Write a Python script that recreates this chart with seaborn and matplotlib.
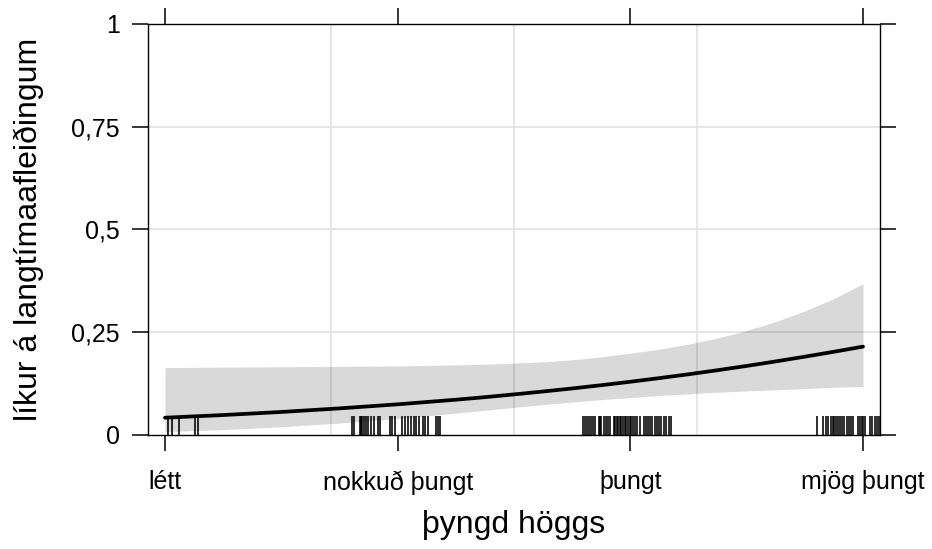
import numpy as np
import pandas as pd
import matplotlib
matplotlib.use("Agg")
import matplotlib.pyplot as plt
import seaborn as sns

# categories on the x axis (coded 1..4)
levels = ["létt", "nokkuð þungt", "þungt", "mjög þungt"]
level_pos = [1, 2, 3, 4]

# fitted probability with confidence band
fit_x = [1.0, 1.25, 1.5, 1.75, 2.0, 2.25, 2.375, 2.5, 2.625, 2.75, 2.875, 3.0,
         3.125, 3.25, 3.375, 3.5, 3.625, 3.75, 3.875, 4.0]
fit_p = [0.042, 0.0485, 0.056, 0.0647, 0.0746, 0.0858, 0.092, 0.0987, 0.1058, 0.1132,
         0.1211, 0.1295, 0.1384, 0.1477, 0.1576, 0.168, 0.179, 0.1905, 0.2025, 0.215]
fit_lower = [0.008, 0.013, 0.020, 0.029, 0.040, 0.053, 0.060, 0.067, 0.074, 0.080,
             0.086, 0.091, 0.096, 0.100, 0.104, 0.107, 0.110, 0.113, 0.116, 0.118]
fit_upper = [0.164, 0.165, 0.166, 0.167, 0.168, 0.1705, 0.172, 0.175, 0.178, 0.183,
             0.190, 0.199, 0.209, 0.221, 0.236, 0.254, 0.276, 0.302, 0.332, 0.368]

# jittered observations drawn as a rug
rug_lett = [1.013, 1.030, 1.060, 1.129, 1.142]
rug_nokkud = [1.804, 1.813, 1.838, 1.843, 1.847, 1.855, 1.864, 1.873, 1.886, 1.899,
              1.916, 1.924, 1.968, 1.976, 1.989, 2.019, 2.032, 2.045, 2.058, 2.071,
              2.079, 2.092, 2.109, 2.118, 2.131, 2.165, 2.174, 2.182]
rug_thungt = [2.797, 2.806, 2.815, 2.821, 2.830, 2.840, 2.847, 2.864, 2.870, 2.875,
              2.887, 2.897, 2.904, 2.913, 2.930, 2.935, 2.941, 2.947, 2.956, 2.961,
              2.968, 2.976, 2.983, 2.990, 2.997, 3.004, 3.011, 3.019, 3.030, 3.040,
              3.059, 3.069, 3.076, 3.083, 3.093, 3.105, 3.116, 3.122, 3.133, 3.145,
              3.155, 3.165, 3.176]
rug_mjog = [3.804, 3.829, 3.841, 3.851, 3.861, 3.870, 3.875, 3.884, 3.894, 3.901,
            3.910, 3.919, 3.930, 3.941, 3.948, 3.959, 3.980, 3.987, 3.995, 4.002,
            4.009, 4.031, 4.038, 4.052, 4.060, 4.069]

y_ticks = [0, 0.25, 0.5, 0.75, 1]
y_ticklabels = ["0", "0,25", "0,5", "0,75", "1"]

sns.set_style("white")
plt.rcParams["font.family"] = ["Liberation Sans", "DejaVu Sans"]

fit = pd.DataFrame({"x": fit_x, "p": fit_p, "lo": fit_lower, "hi": fit_upper})
rug = pd.DataFrame({"x": rug_lett + rug_nokkud + rug_thungt + rug_mjog})

fig = plt.figure(figsize=(9.32, 5.49), dpi=100)
ax = fig.add_axes([0.1588, 0.2077, 0.7854, 0.7486])

# light grid behind everything
for gx in [1.712, 2.499, 3.288]:
    ax.axvline(gx, color="#e4e4e4", lw=1.3, zorder=0)
for gy in [0.25, 0.5, 0.75]:
    ax.axhline(gy, color="#e4e4e4", lw=1.3, zorder=0)

ax.fill_between(fit["x"], fit["lo"], fit["hi"], color="black", alpha=0.15, lw=0, zorder=1)
sns.lineplot(data=fit, x="x", y="p", color="black", lw=2.7, ax=ax, zorder=3,
             solid_capstyle="round")
sns.rugplot(data=rug, x="x", height=0.046, color="black", linewidth=1.15, ax=ax,
            expand_margins=False, zorder=2)

ax.set_xlim(0.927, 4.073)
ax.set_ylim(0, 1)
ax.set_xticks(level_pos)
ax.set_xticklabels(levels)
ax.set_yticks(y_ticks)
ax.set_yticklabels(y_ticklabels)

for s in ax.spines.values():
    s.set_visible(True)
    s.set_color("black")
    s.set_linewidth(1.0)

ax.tick_params(axis="both", which="both", direction="out", length=11.5, width=1.1,
               color="black", labelsize=18, labelcolor="black",
               top=True, right=True, bottom=True, left=True,
               labeltop=False, labelright=False)
ax.tick_params(axis="x", pad=14)
ax.tick_params(axis="y", pad=9)

ax.set_xlabel("þyngd höggs", fontsize=23, color="black", va="center")
ax.xaxis.set_label_coords(0.5, -0.218)
ax.set_ylabel("líkur á langtímaafleiðingum", fontsize=23, color="black", va="center")
ax.yaxis.set_label_coords(-0.163, 0.5)

fig.savefig("out.png", dpi=100)
